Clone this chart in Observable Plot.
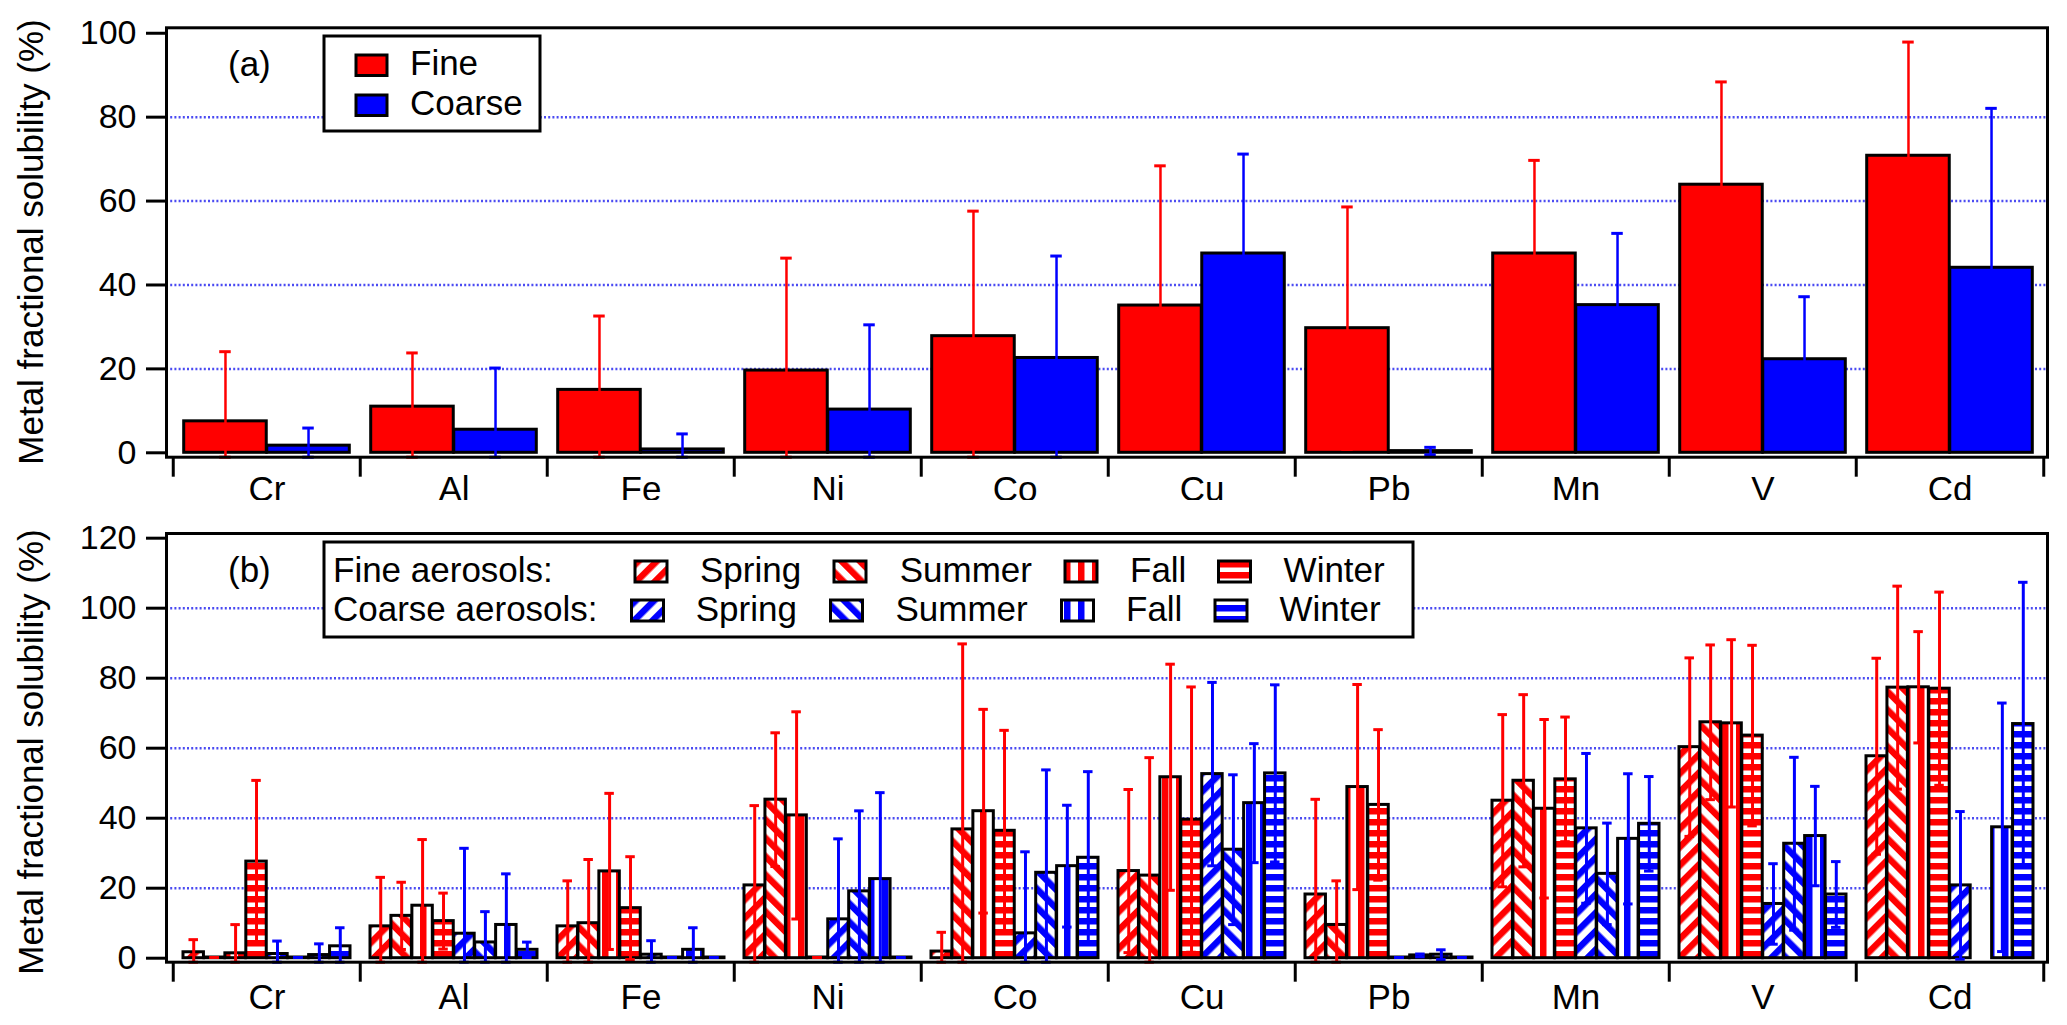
<!DOCTYPE html>
<html>
<head>
<meta charset="utf-8">
<script src="https://cdn.jsdelivr.net/npm/d3@7"></script>
<script src="https://cdn.jsdelivr.net/npm/@observablehq/plot@0.6"></script>
<style>
  body { margin: 0; background: #fff; }
  #chart { position: relative; width: 2067px; height: 1025px; }
  #chart svg.panel { position: absolute; left: 0; }
</style>
</head>
<body>
<div id="chart"></div>
<script>
// values (mean and standard deviation, %)
const elements = ["Cr", "Al", "Fe", "Ni", "Co", "Cu", "Pb", "Mn", "V", "Cd"];
const seasons = ["Spring", "Summer", "Fall", "Winter"];

// panel (a): annual
const fineMean   = [7.5, 11.0, 15.0, 19.6, 27.8, 35.1, 29.7, 47.5, 63.9, 70.8];
const fineSD     = [16.6, 12.8, 17.6, 26.8, 29.8, 33.3, 28.9, 22.2, 24.5, 27.1];
const coarseMean = [1.7, 5.5, 0.8, 10.3, 22.6, 47.5, 0.4, 35.2, 22.3, 44.1];
const coarseSD   = [4.2, 14.7, 3.7, 20.2, 24.3, 23.7, 0.9, 17.1, 14.9, 38.0];

// panel (b): by season
const fineSpringMean = [1.7, 9.1, 9.1, 20.8, 1.9, 24.9, 18.2, 45.0, 60.3, 57.7];
const fineSpringSD   = [3.6, 14.0, 13.0, 22.8, 5.5, 23.3, 27.2, 24.6, 25.5, 28.0];
const fineSummerMean = [0.2, 12.1, 10.0, 45.3, 36.8, 23.6, 9.5, 50.7, 67.4, 77.3];
const fineSummerSD   = [0, 9.6, 18.2, 19.1, 53.0, 33.7, 12.6, 24.6, 22.1, 29.0];
const fineFallMean   = [1.4, 15.0, 24.8, 40.8, 42.0, 51.7, 48.9, 42.7, 67.1, 77.4];
const fineFallSD     = [8.2, 18.9, 22.3, 29.6, 29.1, 32.3, 29.3, 25.5, 23.9, 15.9];
const fineWinterMean = [27.6, 10.6, 14.3, 0.2, 36.4, 39.6, 43.8, 51.1, 63.6, 77.0];
const fineWinterSD   = [23.2, 8.0, 14.7, 0, 28.7, 37.9, 21.5, 17.8, 25.8, 27.6];

const coarseSpringMean = [1.2, 7.0, 1.0, 11.1, 7.1, 52.6, 0.2, 37.1, 15.5, 20.8];
const coarseSpringSD   = [3.7, 24.4, 4.0, 23.0, 23.3, 26.2, 0, 21.4, 11.5, 21.1];
const coarseSummerMean = [0.2, 4.5, 0.2, 19.1, 24.4, 31.0, 0.8, 24.1, 32.7, null];
const coarseSummerSD   = [0, 8.8, 0, 23.0, 29.4, 21.4, 0.4, 14.5, 24.7, null];
const coarseFallMean   = [0.9, 9.5, 2.4, 22.6, 26.3, 44.3, 1.0, 34.1, 34.9, 37.4];
const coarseFallSD     = [3.2, 14.6, 6.3, 24.7, 17.4, 17.0, 1.4, 18.6, 14.2, 35.5];
const coarseWinterMean = [3.4, 2.4, 0.2, 0.2, 28.7, 52.8, 0.2, 38.4, 18.2, 66.9];
const coarseWinterSD   = [5.3, 2.2, 0, 0, 24.6, 25.3, 0, 13.5, 9.4, 40.5];

const yLabel = "Metal fractional solubility (%)";

const RED = "#ff0000", BLUE = "#0000ff", GRID = "#4b4bf2";
const FONT = '"Liberation Sans", Arial, Helvetica, sans-serif';
const W = 2067;
const BAND = 187.5;   // width of one element band in px

const chart = d3.select("#chart");

// hatch patterns (Igor-style fills)
const defs = chart.append("svg").attr("width", 0).attr("height", 0)
  .style("position", "absolute").append("defs");
const hatch = {Spring: [45, 13], Summer: [-45, 13], Fall: [0, 14], Winter: [90, 11]};
function addPattern(id, color, [angle, period]) {
  const p = defs.append("pattern").attr("id", id)
    .attr("patternUnits", "userSpaceOnUse")
    .attr("width", period).attr("height", period)
    .attr("patternTransform", `rotate(${angle})`);
  p.append("rect").attr("width", period).attr("height", period).attr("fill", "white");
  p.append("rect").attr("width", 6.5).attr("height", period).attr("fill", color);
}
for (const s of seasons) {
  addPattern(`pat-fine-${s}`, RED, hatch[s]);
  addPattern(`pat-coarse-${s}`, BLUE, hatch[s]);
}

function makeRows(means, sds) {
  return elements.map((e, i) => ({element: e, mean: means[i], sd: sds[i]}))
    .filter(d => d.mean != null);
}

// bars + error bars for series k of n within each element band
function seriesMarks(s, k, n, pad, ymin, errW, capW, barW) {
  const w = (BAND - 2 * pad) / n;
  const left = pad + k * w;
  const right = BAND - pad - (k + 1) * w;
  const center = left + w / 2 - BAND / 2;
  const capL = left + w / 2 - capW / 2, capR = right + w / 2 - capW / 2;
  const lo = d => Math.max(d.mean - d.sd, ymin);
  const hi = d => d.mean + d.sd;
  return {
    bars: Plot.barY(s.rows, {x: "element", y: "mean", fill: s.fill, stroke: "black",
      strokeWidth: barW, insetLeft: left, insetRight: right}),
    errs: [
      Plot.ruleX(s.rows, {x: "element", y1: lo, y2: hi, dx: center, stroke: s.color, strokeWidth: errW}),
      Plot.tickY(s.rows, {x: "element", y: hi, insetLeft: capL, insetRight: capR, stroke: s.color, strokeWidth: 3}),
      Plot.tickY(s.rows, {x: "element", y: lo, insetLeft: capL, insetRight: capR, stroke: s.color, strokeWidth: 3})
    ]
  };
}

function panel({series, pad, yDomain, yTicks, grid, height, marginTop, marginBottom, labelPad, errW, capW, barW}) {
  const parts = series.map((s, k) => seriesMarks(s, k, series.length, pad, yDomain[0], errW, capW, barW));
  return Plot.plot({
    width: W, height,
    marginLeft: 166, marginRight: 20, marginTop, marginBottom,
    style: {fontFamily: FONT, color: "black", background: "white", overflow: "visible"},
    x: {domain: elements, padding: 0, insetLeft: 4, insetRight: 2, label: null, axis: null},
    y: {domain: yDomain, label: null, axis: null},
    marks: [
      Plot.ruleY(grid, {stroke: GRID, strokeWidth: 2.5, strokeDasharray: "2,2.2"}),
      ...parts.map(p => p.bars),
      ...parts.flatMap(p => p.errs),
      Plot.frame({stroke: "black", strokeWidth: 3}),
      Plot.axisY({ticks: yTicks, tickSize: 20, tickPadding: 10, fontSize: 34, strokeWidth: 3, tickFormat: d => String(d)}),
      Plot.axisX({tickSize: 20, tickPadding: 0, strokeWidth: 3, tickFormat: () => "", dx: -BAND / 2}),
      Plot.axisX({ticks: [elements[elements.length - 1]], tickSize: 20, tickPadding: 0, strokeWidth: 3, tickFormat: () => "", dx: BAND / 2}),
      Plot.axisX({tickSize: 0, tickPadding: labelPad, fontSize: 35})
    ]
  });
}

function addYLabel(g, cy) {
  g.append("text").attr("transform", `translate(31,${cy}) rotate(-90)`)
    .attr("text-anchor", "middle").attr("dy", "0.35em").text(yLabel);
}

// ---- panel (a)
const svgA = panel({
  series: [
    {rows: makeRows(fineMean, fineSD), fill: RED, color: RED},
    {rows: makeRows(coarseMean, coarseSD), fill: BLUE, color: BLUE}
  ],
  pad: 10.7, yDomain: [-1.05, 101.3], yTicks: [0, 20, 40, 60, 80, 100], grid: [20, 40, 60, 80],
  height: 500, marginTop: 27.3, marginBottom: 43.3, labelPad: 18.5, errW: 2.5, capW: 12, barW: 3
});
svgA.classList.add("panel");
svgA.style.top = "0px";
chart.node().appendChild(svgA);

const ga = d3.select(svgA).append("g").attr("font-family", FONT).attr("font-size", 35)
  .attr("text-anchor", "start").attr("fill", "black");
addYLabel(ga, 242);
ga.append("text").attr("x", 228).attr("y", 75.6).text("(a)");
ga.append("rect").attr("x", 324).attr("y", 36).attr("width", 216).attr("height", 95)
  .attr("fill", "white").attr("stroke", "black").attr("stroke-width", 3);
[["Fine", RED, 55], ["Coarse", BLUE, 95]].forEach(([t, c, y]) => {
  ga.append("rect").attr("x", 356).attr("y", y).attr("width", 31).attr("height", 20.5)
    .attr("fill", c).attr("stroke", "black").attr("stroke-width", 3);
  ga.append("text").attr("x", 410).attr("y", y + 20).text(t);
});

// ---- panel (b)
const fineSeason = [[fineSpringMean, fineSpringSD], [fineSummerMean, fineSummerSD], [fineFallMean, fineFallSD], [fineWinterMean, fineWinterSD]];
const coarseSeason = [[coarseSpringMean, coarseSpringSD], [coarseSummerMean, coarseSummerSD], [coarseFallMean, coarseFallSD], [coarseWinterMean, coarseWinterSD]];
const seriesB = [
  ...fineSeason.map(([m, s], i) => ({rows: makeRows(m, s), fill: `url(#pat-fine-${seasons[i]})`, color: RED})),
  ...coarseSeason.map(([m, s], i) => ({rows: makeRows(m, s), fill: `url(#pat-coarse-${seasons[i]})`, color: BLUE}))
];
const TOPB = 500;
const svgB = panel({
  series: seriesB,
  pad: 10, yDomain: [-1.14, 121.34], yTicks: [0, 20, 40, 60, 80, 100, 120], grid: [20, 40, 60, 80, 100],
  height: 525, marginTop: 33, marginBottom: 63.3, labelPad: 21.6, errW: 3, capW: 10, barW: 3
});
svgB.classList.add("panel");
svgB.style.top = TOPB + "px";
chart.node().appendChild(svgB);

const gb = d3.select(svgB).append("g").attr("font-family", FONT).attr("font-size", 35)
  .attr("text-anchor", "start").attr("fill", "black")
  .attr("transform", `translate(0,${-TOPB})`);
addYLabel(gb, 752);
gb.append("text").attr("x", 228).attr("y", 582).text("(b)");
gb.append("rect").attr("x", 324).attr("y", 542).attr("width", 1089).attr("height", 95)
  .attr("fill", "white").attr("stroke", "black").attr("stroke-width", 3);
const rowsLegend = [
  {label: "Fine aerosols:", kind: "fine", y: 561, swX: [635, 834, 1065, 1218.5], txX: [700, 899.7, 1130, 1283.6]},
  {label: "Coarse aerosols:", kind: "coarse", y: 600, swX: [631.5, 830.5, 1061.5, 1215], txX: [695.7, 895.5, 1126, 1279.5]}
];
for (const r of rowsLegend) {
  gb.append("text").attr("x", 333).attr("y", r.y + 20.7).text(r.label);
  seasons.forEach((s, i) => {
    gb.append("rect").attr("x", r.swX[i]).attr("y", r.y).attr("width", 32).attr("height", 21)
      .attr("fill", `url(#pat-${r.kind}-${s})`).attr("stroke", "black").attr("stroke-width", 3);
    gb.append("text").attr("x", r.txX[i]).attr("y", r.y + 20.7).text(s);
  });
}
</script>
</body>
</html>
